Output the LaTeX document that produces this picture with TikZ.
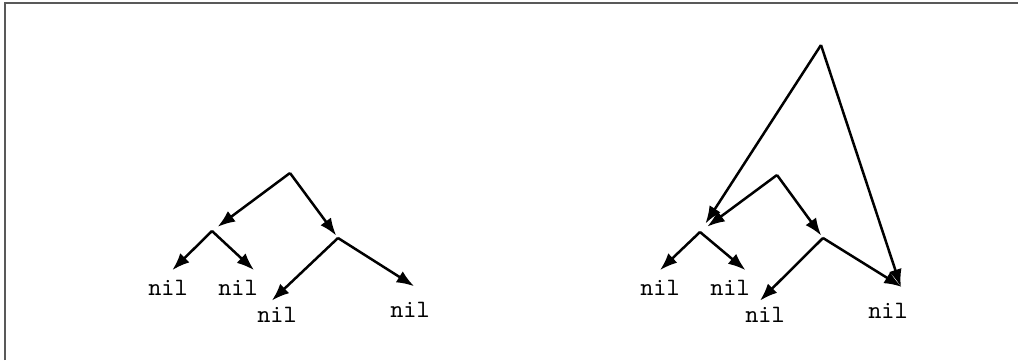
\documentclass[tikz,border=0pt]{standalone}
\usetikzlibrary{arrows.meta}
\begin{document}
\begin{tikzpicture}[
  x=0.4pt, y=-0.4pt, line width=1pt, >={Latex[length=7pt,width=5.2pt]},
  leaf/.style={font=\ttfamily, anchor=base},
  frame/.style={draw=black!65, line width=0.9pt},
]
  \useasboundingbox (0,0) rectangle (1018,360);
  \draw[frame] (5,360) -- (5,3) -- (1018,3);
  % left tree
  \coordinate (r1) at (290,173);
  \coordinate (a1) at (212,231);
  \coordinate (b1) at (338,238);
  \node[leaf] (na1) at (168,295) {nil};
  \node[leaf] (nb1) at (238,295) {nil};
  \node[leaf] (nc1) at (277,322) {nil};
  \node[leaf] (nd1) at (410,317) {nil};
  \draw[->, shorten >=2.8pt] (r1) -- (a1);
  \draw[->, shorten >=1.2pt] (r1) -- (b1);
  \draw[->] (a1) -- (na1.76);
  \draw[->] (a1) -- (nb1.47);
  \draw[->, shorten >=-2pt] (b1) -- (nc1.95);
  \draw[->, shorten >=4.4pt] (b1) -- (nd1.52);
  % right tree, with extra root
  \coordinate (top) at (821,45);
  \coordinate (r2) at (777,175);
  \coordinate (a2) at (700,232);
  \coordinate (b2) at (823,238);
  \node[leaf] (na2) at (660,295) {nil};
  \node[leaf] (nb2) at (730,295) {nil};
  \node[leaf] (nc2) at (765,322) {nil};
  \node[leaf] (nd2) at (888,318) {nil};
  \draw[->, shorten >=3.6pt] (r2) -- (a2);
  \draw[->, shorten >=1.2pt] (r2) -- (b2);
  \draw[->] (a2) -- (na2.north);
  \draw[->] (a2) -- (nb2.48);
  \draw[->, shorten >=-2pt] (b2) -- (nc2.95);
  \draw[->, shorten >=4.7pt] (b2) -- (nd2.36);
  \draw[->, shorten >=4pt] (top) -- (a2);
  \draw[->, shorten >=2.7pt] (top) -- (nd2.49);
\end{tikzpicture}
\end{document}
